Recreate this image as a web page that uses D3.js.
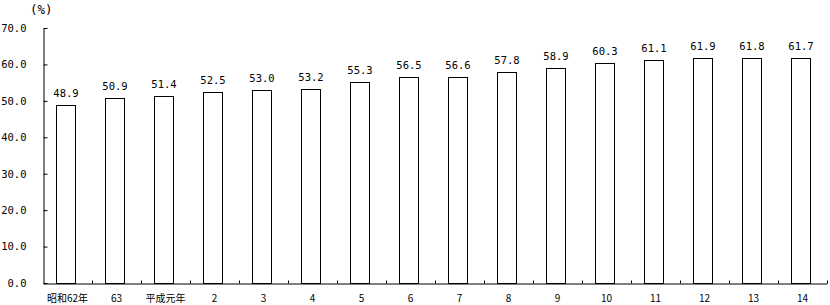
<!DOCTYPE html>
<html>
<head>
<meta charset="utf-8">
<script src="https://cdn.jsdelivr.net/npm/d3@7.9.0/dist/d3.min.js"></script>
<style>
  body { margin: 0; background: #fff; }
  svg { display: block; }
  .num { font-family: "DejaVu Sans Mono", "Liberation Mono", monospace; font-size: 10.5px; }
  .cat { font-family: "Noto Sans CJK JP", sans-serif; font-size: 10px; }
</style>
</head>
<body>
<svg id="chart"></svg>
<script>
const categories = ['昭和62年', '63', '平成元年', '2', '3', '4', '5', '6', '7', '8', '9', '10', '11', '12', '13', '14'];
const values = [48.9, 50.9, 51.4, 52.5, 53.0, 53.2, 55.3, 56.5, 56.6, 57.8, 58.9, 60.3, 61.1, 61.9, 61.8, 61.7];
const yTicks = [0, 10, 20, 30, 40, 50, 60, 70];

const width = 830;
const height = 305;
const margin = { top: 28, right: 3, bottom: 22, left: 43 };

const svg = d3.select('#chart')
  .attr('width', width)
  .attr('height', height);

const x0 = margin.left;
const x1 = width - margin.right;
const yBottom = height - margin.bottom;

// category slots, no padding (for ticks + labels)
const xSlot = d3.scaleBand()
  .domain(categories)
  .range([x0, x1])
  .padding(0);

// bars sit inside each slot
const xBar = d3.scaleBand()
  .domain(categories)
  .range([x0, x1])
  .paddingInner(0.61)
  .paddingOuter(0.305)
  .align(0.45);

const yScale = d3.scaleLinear()
  .domain([0, 70])
  .range([yBottom, margin.top]);

// y axis
const yAxis = d3.axisLeft(yScale)
  .tickValues(yTicks)
  .tickSize(-4)
  .tickSizeOuter(0)
  .tickPadding(17)
  .tickFormat(d3.format('.1f'));

svg.append('g')
  .attr('transform', `translate(${x0 + 0.5}, 0)`)
  .call(yAxis)
  .call(g => g.selectAll('text').attr('class', 'num').attr('fill', '#000').attr('font-family', null).attr('font-size', null))
  .call(g => g.selectAll('line, path').attr('stroke', '#000'));

svg.append('text')
  .attr('class', 'num')
  .attr('x', 30)
  .attr('y', 14)
  .style('font-size', '12.5px')
  .text('(%)');

// bars
svg.append('g')
  .selectAll('rect')
  .data(values)
  .join('rect')
  .attr('x', (d, i) => Math.round(xBar(categories[i])) + 0.5)
  .attr('y', d => Math.round(yScale(d)) + 0.5)
  .attr('width', Math.round(xBar.bandwidth()))
  .attr('height', d => yBottom - Math.round(yScale(d)))
  .attr('fill', '#fff')
  .attr('stroke', '#000')
  .attr('stroke-width', 1);

// value labels
svg.append('g')
  .selectAll('text')
  .data(values)
  .join('text')
  .attr('class', 'num')
  .attr('text-anchor', 'middle')
  .attr('x', (d, i) => xBar(categories[i]) + xBar.bandwidth() / 2)
  .attr('y', d => yScale(d) - 8)
  .text(d => d3.format('.1f')(d));

// x axis: boundary ticks pointing up
const xIdx = d3.scaleLinear().domain([0, categories.length]).range([x0, x1]);
svg.append('g')
  .attr('transform', `translate(0, ${yBottom + 0.5})`)
  .call(d3.axisBottom(xIdx)
    .tickValues(d3.range(1, categories.length + 1))
    .tickSize(-3)
    .tickSizeOuter(0)
    .tickFormat(''))
  .call(g => g.selectAll('line, path').attr('stroke', '#000'));

// x labels
svg.append('g')
  .attr('transform', `translate(0, ${yBottom})`)
  .call(d3.axisBottom(xSlot).tickSize(0).tickPadding(12))
  .call(g => g.select('.domain').remove())
  .call(g => g.selectAll('text').attr('class', 'cat').attr('fill', '#000').attr('font-family', null).attr('font-size', null));
</script>
</body>
</html>
